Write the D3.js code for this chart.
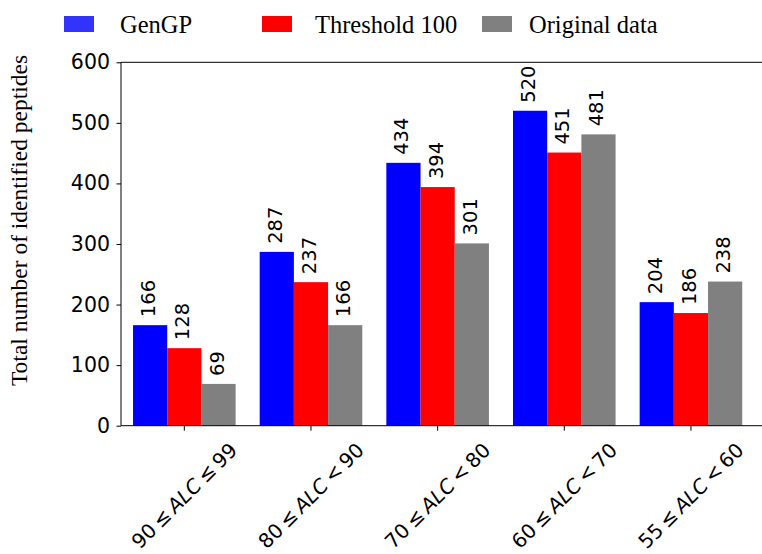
<!DOCTYPE html>
<html>
<head>
<meta charset="utf-8">
<script src="https://cdn.jsdelivr.net/npm/d3@7"></script>
<style>
  html, body { margin: 0; padding: 0; background: #fff; }
  svg { display: block; }
</style>
</head>
<body>
<svg id="chart" width="762" height="554"></svg>
<script>
// ALC ranges (x categories) and peptide counts per method
const categories = ["90\u2009≤\u2009ALC\u2009≤\u200999", "80\u2009≤\u2009ALC\u2009<\u200990", "70\u2009≤\u2009ALC\u2009<\u200980", "60\u2009≤\u2009ALC\u2009<\u200970", "55\u2009≤\u2009ALC\u2009<\u200960"];
const seriesNames = ["GenGP", "Threshold 100", "Original data"];
const genGP = [166, 287, 434, 520, 204];
const threshold100 = [128, 237, 394, 451, 186];
const originalData = [69, 166, 301, 481, 238];
const yTicks = [0, 100, 200, 300, 400, 500, 600];

const series = [genGP, threshold100, originalData];
const barColors = ["#0000ff", "#ff0000", "#808080"];
const legendColors = ["#3333ff", "#ff0000", "#808080"];

const svg = d3.select("#chart");

// index-based x scale; the right limit runs past the visible area
const x = d3.scaleLinear().domain([-0.5, 4.7]).range([121, 779.6]);
const y = d3.scaleLinear().domain([0, 600]).range([425.7, 62.3]);
const barW = 0.27;

// bars
series.forEach((vals, s) => {
  const off = (s - 1) * barW;
  svg.append("g").selectAll("rect").data(vals).join("rect")
    .attr("x", (d, i) => x(i + off - barW / 2))
    .attr("width", x(barW) - x(0))
    .attr("y", d => y(d))
    .attr("height", d => y(0) - y(d))
    .attr("fill", barColors[s]);

  // value labels, rotated
  svg.append("g").selectAll("text").data(vals).join("text")
    .attr("transform", (d, i) => `translate(${x(i + off) + 5},${y(d) - 8}) rotate(-90)`)
    .attr("text-anchor", "start")
    .attr("font-family", "DejaVu Sans")
    .attr("font-size", 19.5)
    .attr("fill", "#000")
    .text(d => d);
});

// spines: left, top, bottom
const x0 = x.range()[0], x1 = x.range()[1];
svg.append("line").attr("x1", x0).attr("x2", x1).attr("y1", y(600)).attr("y2", y(600))
  .attr("stroke", "#000").attr("stroke-width", 1);
svg.append("line").attr("x1", x0).attr("x2", x1).attr("y1", y(0)).attr("y2", y(0))
  .attr("stroke", "#000").attr("stroke-width", 1);

// y axis
const yAxis = svg.append("g")
  .attr("transform", `translate(${x0},0)`)
  .call(d3.axisLeft(y).tickValues(yTicks).tickSize(4.5).tickPadding(6.5).tickFormat(d3.format("d")));
yAxis.select(".domain").attr("stroke", "#000").attr("d", `M0,${y(0)}V${y(600)}`);
yAxis.selectAll(".tick line").attr("stroke", "#000");
yAxis.selectAll(".tick text")
  .attr("font-family", "DejaVu Sans").attr("font-size", 20.5).attr("fill", "#000");

// x ticks
svg.append("g").selectAll("line").data(categories).join("line")
  .attr("x1", (d, i) => x(i)).attr("x2", (d, i) => x(i))
  .attr("y1", y(0)).attr("y2", y(0) + 5)
  .attr("stroke", "#000");

// x tick labels, rotated 45 degrees, bbox centred under each tick
const xFont = 20;
const xl = svg.append("g");
categories.forEach((c, i) => {
  const parts = c.split("ALC");
  const t = xl.append("text")
    .attr("font-family", "DejaVu Sans")
    .attr("font-size", xFont)
    .attr("text-anchor", "middle")
    .attr("dominant-baseline", "central")
    .attr("fill", "#000");
  t.append("tspan").text(parts[0]);
  t.append("tspan").attr("font-style", "italic").text("ALC");
  t.append("tspan").text(parts[1]);
  const w = t.node().getComputedTextLength();
  const fh = xFont * 1.17;
  const bw = (w + fh) * Math.SQRT1_2;
  t.attr("transform", `translate(${x(i)},${y(0) + 12.5 + bw / 2}) rotate(-45)`);
});

// y axis title
svg.append("text")
  .attr("transform", `translate(27,220.5) rotate(-90)`)
  .attr("text-anchor", "middle")
  .attr("font-family", "Liberation Serif")
  .attr("font-size", 23.5)
  .attr("fill", "#000")
  .text("Total number of identified peptides");

// legend
const legendPatchX = [64, 262, 482];
const legendTextX = [120, 315, 529];
const legend = svg.append("g");
seriesNames.forEach((n, s) => {
  legend.append("rect")
    .attr("x", legendPatchX[s]).attr("y", 16)
    .attr("width", 30).attr("height", 16)
    .attr("fill", legendColors[s]);
  legend.append("text")
    .attr("x", legendTextX[s]).attr("y", 33)
    .attr("font-family", "Liberation Serif")
    .attr("font-size", 24.5)
    .attr("fill", "#000")
    .text(n);
});
</script>
</body>
</html>
